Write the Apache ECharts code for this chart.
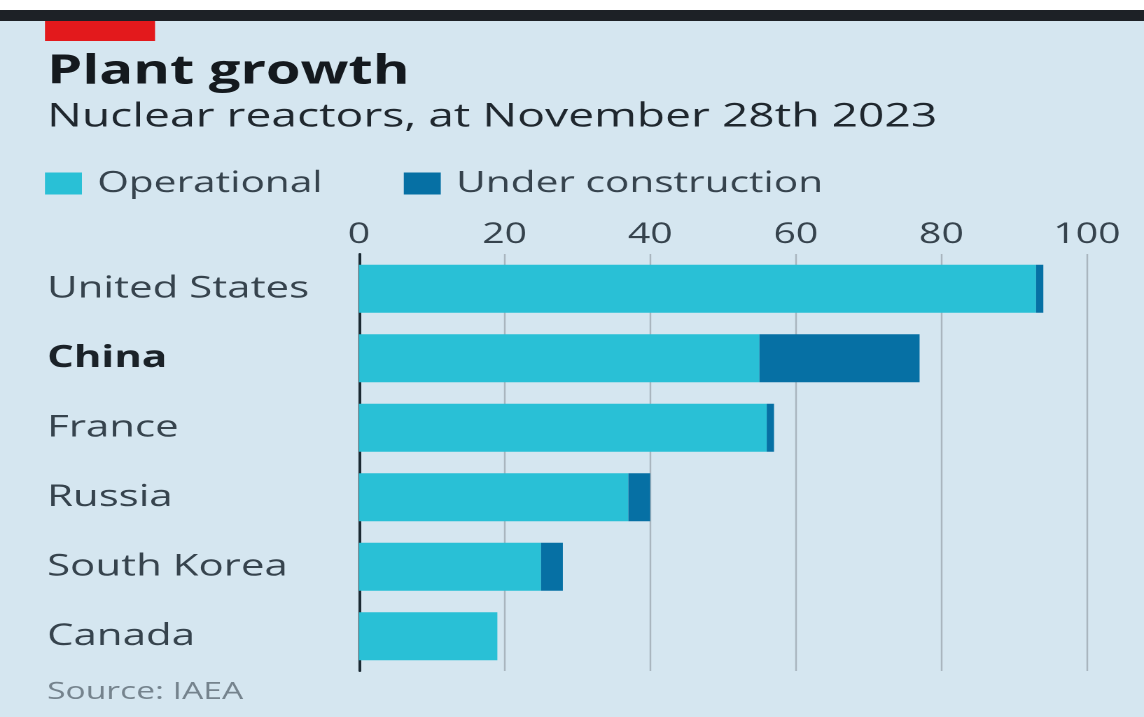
<!DOCTYPE html>
<html>
<head>
<meta charset="utf-8">
<script src="https://cdn.jsdelivr.net/npm/echarts@6/dist/echarts.min.js"></script>
<style>
  html, body { margin: 0; padding: 0; background: #ffffff; overflow: hidden; }
  /* The chart is laid out on a narrower canvas and widened horizontally,
     giving the broad lettering of this graphic. */
  #chart { width: 817px; height: 717px; transform-origin: 0 0; transform: scaleX(1.40024); }
</style>
</head>
<body>
<div id="chart"></div>
<script>
// Nuclear reactors by country, at November 28th 2023
const countries = ['United States', 'China', 'France', 'Russia', 'South Korea', 'Canada'];
const operational = [93, 55, 56, 37, 25, 19];
const underConstruction = [1, 22, 1, 3, 3, 0];
const xTicks = [0, 20, 40, 60, 80, 100];

const FONT = '"Open Sans", "Noto Sans", sans-serif';
const W = 817;
const chart = echarts.init(document.getElementById('chart'), null, { renderer: 'canvas', devicePixelRatio: 2 });

chart.setOption({
  backgroundColor: '#ffffff',
  animation: false,
  graphic: [
    { type: 'rect', shape: { x: 0, y: 10, width: W, height: 707 }, style: { fill: '#d5e6f0' }, z: -10 },
    { type: 'rect', shape: { x: 0, y: 10, width: W, height: 11 }, style: { fill: '#1d2126' } },
    { type: 'rect', shape: { x: 32.1, y: 21, width: 78.6, height: 20 }, style: { fill: '#e3191c' } },
    { type: 'text', x: 33.6, y: 72, style: { text: 'Plant growth', font: 'bold 40px ' + FONT, fill: '#14191e', verticalAlign: 'middle' } },
    { type: 'text', x: 33.6, y: 117, style: { text: 'Nuclear reactors, at November 28th 2023', font: '33px ' + FONT, fill: '#1f272e', verticalAlign: 'middle' } },
    { type: 'text', x: 33.6, y: 692, style: { text: 'Source: IAEA', font: '24px ' + FONT, fill: '#75838d', verticalAlign: 'middle' } }
  ],
  legend: {
    left: 27.1, top: 164,
    itemWidth: 26.4, itemHeight: 22, itemGap: 58,
    icon: 'rect',
    textStyle: { fontFamily: FONT, fontSize: 29, color: '#36434d', padding: [0, 0, 0, 6] },
    data: ['Operational', 'Under construction']
  },
  grid: { left: 256.4, right: 40.7, top: 254, bottom: 46 },
  xAxis: {
    type: 'value', position: 'top', min: 0, max: 100, interval: 20,
    axisLine: { show: false }, axisTick: { show: false },
    axisLabel: {
      fontFamily: FONT, fontSize: 28, color: '#36434d', margin: 5,
      formatter: v => xTicks.includes(v) ? String(v) : ''
    },
    splitLine: { lineStyle: { color: '#a9b5be', width: 1.2 } }
  },
  yAxis: {
    type: 'category', inverse: true, data: countries,
    axisLine: { lineStyle: { color: '#1b2a33', width: 2 } },
    axisTick: { show: false },
    axisLabel: {
      align: 'left', margin: 222.8,
      fontFamily: FONT, fontSize: 30, color: '#36434d',
      formatter: v => v === 'China' ? '{b|' + v + '}' : v,
      rich: { b: { fontFamily: FONT, fontSize: 30, fontWeight: 'bold', color: '#1b2228' } }
    }
  },
  series: [
    { name: 'Operational', type: 'bar', stack: 'r', data: operational, barWidth: 48, itemStyle: { color: '#29c0d6' } },
    { name: 'Under construction', type: 'bar', stack: 'r', data: underConstruction, barWidth: 48, itemStyle: { color: '#0670a4' } }
  ]
});
</script>
</body>
</html>
